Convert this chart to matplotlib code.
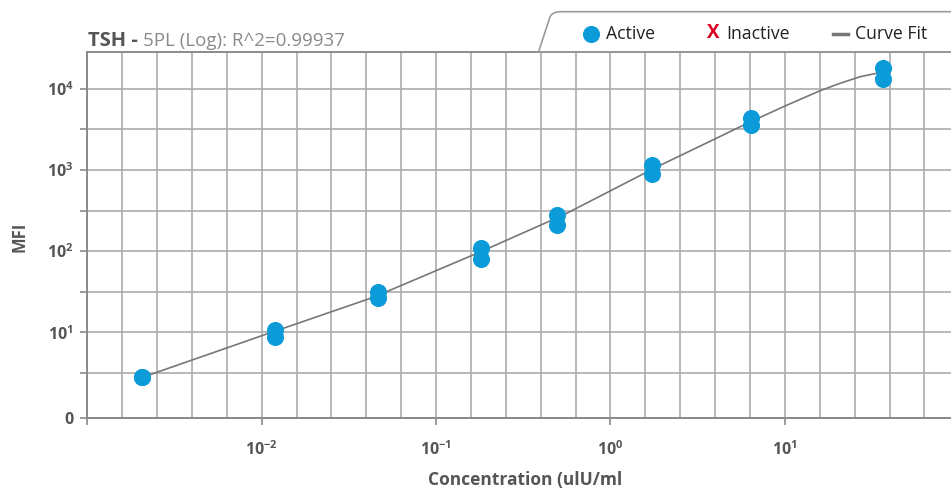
import matplotlib
matplotlib.use("Agg")
import matplotlib.pyplot as plt
import numpy as np
from matplotlib.patches import PathPatch
from matplotlib.path import Path
from matplotlib.lines import Line2D

plt.rcParams['font.family'] = ['Open Sans', 'DejaVu Sans']
plt.rcParams['mathtext.fontset'] = 'custom'
plt.rcParams['mathtext.rm'] = 'Open Sans'
plt.rcParams['mathtext.bf'] = 'Open Sans:bold'

# standards (two replicates per concentration)
conc = [0.00207, 0.0119, 0.0462, 0.181, 0.491, 1.72, 6.35, 36.7]
mfi_rep1 = [2.79, 10.7, 31.1, 108, 280, 1162, 4340, 17870]
mfi_rep2 = [2.79, 8.68, 26.6, 79.0, 209, 893, 3550, 13090]

# 5PL curve
fit_x = [0.00207, 0.01069, 0.0437, 0.1786, 0.536, 1.84, 6.31, 10.0, 15.9, 20.7, 27.0, 33.6]
fit_y = [2.79, 9.53, 27.0, 97.5, 278, 1086, 3890, 6120, 9440, 11650, 14060, 15490]

x_ticks = [1e-3, 1e-2, 1e-1, 1e0, 1e1]
x_labels = ['', r'$\mathbf{10^{-2}}$', r'$\mathbf{10^{-1}}$', r'$\mathbf{10^{0}}$', r'$\mathbf{10^{1}}$']
y_bottom = 10 ** -0.059
y_ticks = [y_bottom, 1e1, 1e2, 1e3, 1e4]
y_labels = ['0', r'$\mathbf{10^{1}}$', r'$\mathbf{10^{2}}$', r'$\mathbf{10^{3}}$', r'$\mathbf{10^{4}}$']

W, H = 951, 491
x0, x1 = 87.3, 960.5
fig = plt.figure(figsize=(W / 100, H / 100), dpi=100)
ax = fig.add_axes([x0 / W, 1 - 418.3 / H, (x1 - x0) / W, (418.3 - 51.7) / H])

grid_c = '#ababab'
spine_c = '#8a8a8a'
ax.set_xscale('log')
ax.set_yscale('log')
ax.set_xlim(1e-3, 10 ** (-3 + (x1 - x0) / 174.4))
ax.set_ylim(y_bottom, 10 ** 4.456)

ax.set_xticks(x_ticks)
ax.set_xticklabels(x_labels)
ax.set_xticks([10 ** (-3 + k / 5) for k in range(1, 25)], minor=True)
ax.set_yticks(y_ticks)
ax.set_yticklabels(y_labels)
ax.set_yticks([10 ** (k / 2) for k in range(1, 9, 2)], minor=True)

ax.tick_params(axis='x', which='major', length=5, width=1.2, color=spine_c, pad=11,
               labelsize=11.5, labelcolor='#555555')
ax.tick_params(axis='x', which='minor', length=0)
ax.tick_params(axis='y', which='both', length=5, width=1.2, color=spine_c, pad=5,
               labelsize=11.5, labelcolor='#555555')
for lab in ax.get_yticklabels():
    lab.set_fontweight('bold')

ax.grid(True, which='both', color=grid_c, linewidth=1.2)
ax.set_axisbelow(True)
for s in ['left', 'bottom', 'top']:
    ax.spines[s].set_color(spine_c)
    ax.spines[s].set_linewidth(1.4)
ax.spines['right'].set_visible(False)

ax.plot(fit_x, fit_y, color='#777777', linewidth=1.2, zorder=3)
blue = '#0a9bd8'
ax.plot(conc, mfi_rep1, 'o', color=blue, markersize=12.3, markeredgewidth=0, zorder=4, clip_on=False)
ax.plot(conc, mfi_rep2, 'o', color=blue, markersize=12.3, markeredgewidth=0, zorder=4, clip_on=False)

# axis titles
fig.text(525 / W, 1 - 480 / H, 'Concentration (ulU/ml', ha='center', va='center',
         fontsize=12.5, fontweight='bold', color='#555555')
fig.text(19 / W, 1 - 237 / H, 'MFI', ha='center', va='center', rotation=90,
         fontsize=12, fontweight='bold', color='#555555')

# title
t1 = fig.text(88 / W, 1 - 46 / H, 'TSH -', ha='left', va='baseline',
              fontsize=14.5, fontweight='bold', color='#555555')
fig.canvas.draw()
bb = t1.get_window_extent()
fig.text((bb.x1 + 5) / W, 1 - 46 / H, '5PL (Log): R^2=0.99937', ha='left', va='baseline',
         fontsize=13.5, color='#8a8a8a')

# legend tab drawn in pixel space
lax = fig.add_axes([0, 0, 1, 1], zorder=5)
lax.set_xlim(0, W)
lax.set_ylim(H, 0)
lax.axis('off')
lax.patch.set_alpha(0)

verts = [(538.5, 52), (550, 17), (552, 12), (560, 11.7), (952, 11.7), (952, 52), (538.5, 52)]
codes = [Path.MOVETO, Path.LINETO, Path.CURVE3, Path.CURVE3, Path.LINETO, Path.LINETO, Path.CLOSEPOLY]
tab = PathPatch(Path(verts, codes), facecolor='none', edgecolor='#9a9a9a', linewidth=1.2, zorder=2)
grad = np.linspace(0, 1, 64).reshape(-1, 1)
im = lax.imshow(grad, extent=[538, 952, 52, 11.5], cmap=matplotlib.colors.LinearSegmentedColormap.from_list(
    'tab', ['#ffffff', '#e6e6e6']), aspect='auto', zorder=1)
im.set_clip_path(tab)
lax.add_patch(tab)
lax.set_xlim(0, W)
lax.set_ylim(H, 0)

lax.add_line(Line2D([591], [33.5], marker='o', color=blue, markersize=12.3, markeredgewidth=0, zorder=3))
lax.text(606, 34, 'Active', ha='left', va='center', fontsize=12.7, color='#222222', zorder=3)
lax.text(713, 33, 'X', ha='center', va='center', fontsize=13.5, fontweight='bold', color='#dd0020', zorder=3)
lax.text(726, 34, 'Inactive', ha='left', va='center', fontsize=12.7, color='#222222', zorder=3)
lax.add_line(Line2D([833, 848], [33.5, 33.5], color='#777777', linewidth=2.5, zorder=3))
lax.text(855, 34, 'Curve Fit', ha='left', va='center', fontsize=12.7, color='#222222', zorder=3)

fig.savefig('out.png', dpi=100)
